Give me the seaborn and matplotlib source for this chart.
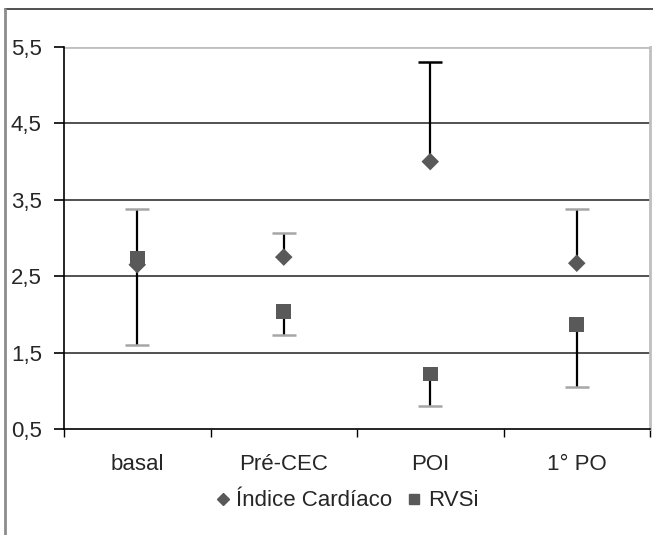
import pandas as pd
import numpy as np
import matplotlib
matplotlib.use("Agg")
import matplotlib.pyplot as plt
import seaborn as sns
from matplotlib.lines import Line2D
from matplotlib.ticker import FixedLocator, FuncFormatter

# --- dados ---
fases = ['basal', 'Pré-CEC', 'POI', '1° PO']
indice_cardiaco = [2.65, 2.75, 4.0, 2.67]
ic_sup = [3.38, 3.07, 5.30, 3.38]      # barra de erro para cima
rvsi = [2.73, 2.04, 1.22, 1.87]
rvsi_inf = [1.60, 1.73, 0.80, 1.05]    # barra de erro para baixo

df = pd.DataFrame({
    'fase': fases * 2,
    'valor': indice_cardiaco + rvsi,
    'serie': ['Índice Cardíaco'] * 4 + ['RVSi'] * 4,
})

sns.set_theme(style="white")
plt.rcParams['font.family'] = ['Liberation Sans', 'DejaVu Sans']

W, H = 653, 535
fig = plt.figure(figsize=(W / 100, H / 100), dpi=100)
ax = fig.add_axes([64 / W, (H - 429) / H, (650 - 64) / W, (429 - 47) / H])

cor = '#595959'
x = np.arange(len(fases))

# barras de erro unilaterais: haste preta, tampa cinza
ic_err = [np.zeros(4), np.array(ic_sup) - np.array(indice_cardiaco)]
rv_err = [np.array(rvsi) - np.array(rvsi_inf), np.zeros(4)]
for vals, err in [(indice_cardiaco, ic_err), (rvsi, rv_err)]:
    ax.errorbar(x, vals, yerr=err, fmt='none', ecolor='black', elinewidth=1.6, capsize=0, zorder=3)
cap_cores = ['#a6a6a6', '#a6a6a6', 'black', '#a6a6a6']
for i in range(4):
    ax.plot(x[i], ic_sup[i], ls='none', marker='_', markersize=17, mew=1.8, color=cap_cores[i], zorder=3)
ax.plot(x, rvsi_inf, ls='none', marker='_', markersize=17, mew=1.8, color='#a6a6a6', zorder=3)

sns.scatterplot(data=df, x='fase', y='valor', hue='serie', style='serie',
                markers={'Índice Cardíaco': 'D', 'RVSi': 's'},
                palette={'Índice Cardíaco': cor, 'RVSi': cor},
                s=80, edgecolor='none', legend=False, ax=ax, zorder=4)
ax.collections[-1].set_sizes([80 if s == 'Índice Cardíaco' else 110 for s in df['serie']])

ax.set_xlim(-0.5, 3.5)
ax.set_ylim(0.5, 5.5)
ax.set_xlabel('')
ax.set_ylabel('')

# grade horizontal
for yv in [1.5, 2.5, 3.5, 4.5]:
    ax.axhline(yv, color='#333333', lw=1.2, zorder=1)
ax.axhline(5.5, color='#bfbfbf', lw=2, zorder=1)

ax.set_yticks([0.5, 1.5, 2.5, 3.5, 4.5, 5.5])
ax.yaxis.set_major_formatter(FuncFormatter(lambda v, p: f'{v:.1f}'.replace('.', ',')))
ax.tick_params(axis='y', direction='out', length=7, width=1.2, color='black',
               labelsize=16, pad=9, left=True)

ax.xaxis.set_major_locator(FixedLocator([-0.5, 0.5, 1.5, 2.5, 3.5]))
ax.xaxis.set_major_formatter(FuncFormatter(lambda v, p: ''))
ax.xaxis.set_minor_locator(FixedLocator(x))
ax.set_xticklabels(fases, minor=True)
ax.tick_params(axis='x', which='major', direction='out', length=6, width=1, color='black', bottom=True)
ax.tick_params(axis='x', which='minor', length=0, labelsize=16, pad=18)

for s in ['left', 'bottom']:
    ax.spines[s].set_color('black')
    ax.spines[s].set_linewidth(1.2)
ax.spines['top'].set_visible(False)
ax.spines['right'].set_color('#bfbfbf')
ax.spines['right'].set_linewidth(2)

# legenda
handles = [Line2D([], [], marker='D', ls='none', color=cor, markersize=6),
           Line2D([], [], marker='s', ls='none', color=cor, markersize=7)]
fig.legend(handles, ['Índice Cardíaco', 'RVSi'], loc='center', bbox_to_anchor=(345 / W, (H - 501) / H),
           ncol=2, frameon=False, fontsize=16, handletextpad=0.1, columnspacing=0.5, handlelength=1.0)

# moldura externa
fig.add_artist(Line2D([5 / W, 1], [1 - 9 / H, 1 - 9 / H], transform=fig.transFigure, color='#333333', lw=1.2))
fig.add_artist(Line2D([5 / W, 5 / W], [0, 1 - 9 / H], transform=fig.transFigure, color='#8c8c8c', lw=2))

fig.savefig('out.png', dpi=100)
